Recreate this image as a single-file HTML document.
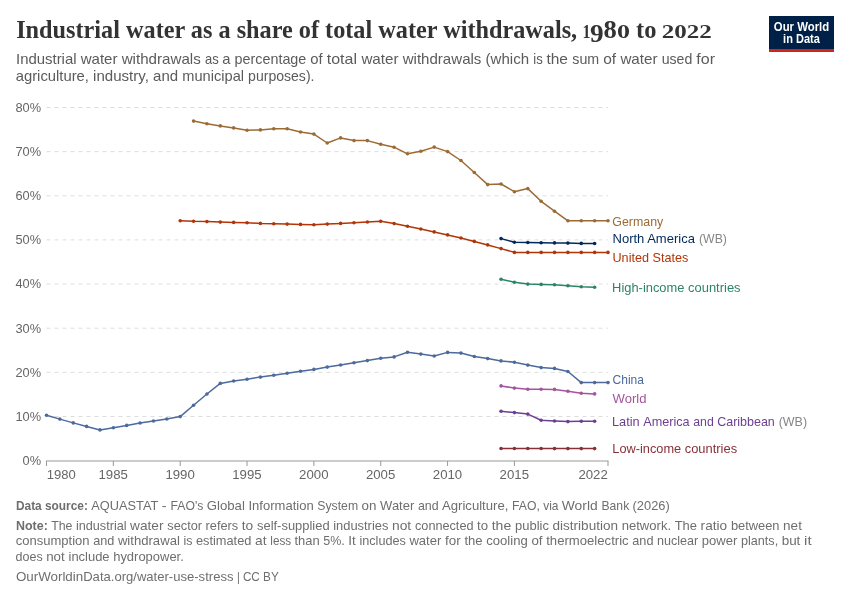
<!DOCTYPE html>
<html><head><meta charset="utf-8"><style>
html,body{margin:0;padding:0;background:#fff;width:850px;height:600px;overflow:hidden}
svg{display:block;will-change:transform}
</style></head><body>
<svg width="850" height="600" viewBox="0 0 850 600">
<rect width="850" height="600" fill="#ffffff"/>
<line x1="46.5" y1="416.50" x2="608" y2="416.50" stroke="#dddddd" stroke-width="1" stroke-dasharray="4,4"/>
<line x1="46.5" y1="372.35" x2="608" y2="372.35" stroke="#dddddd" stroke-width="1" stroke-dasharray="4,4"/>
<line x1="46.5" y1="328.21" x2="608" y2="328.21" stroke="#dddddd" stroke-width="1" stroke-dasharray="4,4"/>
<line x1="46.5" y1="284.07" x2="608" y2="284.07" stroke="#dddddd" stroke-width="1" stroke-dasharray="4,4"/>
<line x1="46.5" y1="239.92" x2="608" y2="239.92" stroke="#dddddd" stroke-width="1" stroke-dasharray="4,4"/>
<line x1="46.5" y1="195.78" x2="608" y2="195.78" stroke="#dddddd" stroke-width="1" stroke-dasharray="4,4"/>
<line x1="46.5" y1="151.64" x2="608" y2="151.64" stroke="#dddddd" stroke-width="1" stroke-dasharray="4,4"/>
<line x1="46.5" y1="107.50" x2="608" y2="107.50" stroke="#dddddd" stroke-width="1" stroke-dasharray="4,4"/>
<line x1="46" y1="461" x2="608.5" y2="461" stroke="#cccccc" stroke-width="2"/>
<line x1="46.50" y1="461" x2="46.50" y2="466" stroke="#999999" stroke-width="1"/>
<line x1="113.35" y1="461" x2="113.35" y2="466" stroke="#999999" stroke-width="1"/>
<line x1="180.19" y1="461" x2="180.19" y2="466" stroke="#999999" stroke-width="1"/>
<line x1="247.04" y1="461" x2="247.04" y2="466" stroke="#999999" stroke-width="1"/>
<line x1="313.88" y1="461" x2="313.88" y2="466" stroke="#999999" stroke-width="1"/>
<line x1="380.73" y1="461" x2="380.73" y2="466" stroke="#999999" stroke-width="1"/>
<line x1="447.57" y1="461" x2="447.57" y2="466" stroke="#999999" stroke-width="1"/>
<line x1="514.42" y1="461" x2="514.42" y2="466" stroke="#999999" stroke-width="1"/>
<line x1="608.00" y1="461" x2="608.00" y2="466" stroke="#999999" stroke-width="1"/>
<text x="41.1" y="464.9" font-size="12.8" fill="#666666" font-weight="normal" font-family='"Liberation Sans", sans-serif' text-anchor="end" xml:space="preserve">0%</text>
<text x="41.1" y="420.8" font-size="12.8" fill="#666666" font-weight="normal" font-family='"Liberation Sans", sans-serif' text-anchor="end" xml:space="preserve">10%</text>
<text x="41.1" y="376.7" font-size="12.8" fill="#666666" font-weight="normal" font-family='"Liberation Sans", sans-serif' text-anchor="end" xml:space="preserve">20%</text>
<text x="41.1" y="332.5" font-size="12.8" fill="#666666" font-weight="normal" font-family='"Liberation Sans", sans-serif' text-anchor="end" xml:space="preserve">30%</text>
<text x="41.1" y="288.4" font-size="12.8" fill="#666666" font-weight="normal" font-family='"Liberation Sans", sans-serif' text-anchor="end" xml:space="preserve">40%</text>
<text x="41.1" y="244.2" font-size="12.8" fill="#666666" font-weight="normal" font-family='"Liberation Sans", sans-serif' text-anchor="end" xml:space="preserve">50%</text>
<text x="41.1" y="200.1" font-size="12.8" fill="#666666" font-weight="normal" font-family='"Liberation Sans", sans-serif' text-anchor="end" xml:space="preserve">60%</text>
<text x="41.1" y="155.9" font-size="12.8" fill="#666666" font-weight="normal" font-family='"Liberation Sans", sans-serif' text-anchor="end" xml:space="preserve">70%</text>
<text x="41.1" y="111.8" font-size="12.8" fill="#666666" font-weight="normal" font-family='"Liberation Sans", sans-serif' text-anchor="end" xml:space="preserve">80%</text>
<text x="46.8" y="478.6" font-size="12.8" fill="#666666" font-weight="normal" font-family='"Liberation Sans", sans-serif' text-anchor="start" xml:space="preserve" textLength="29.0" lengthAdjust="spacingAndGlyphs">1980</text>
<text x="98.5" y="478.6" font-size="12.8" fill="#666666" font-weight="normal" font-family='"Liberation Sans", sans-serif' text-anchor="start" xml:space="preserve" textLength="29.4" lengthAdjust="spacingAndGlyphs">1985</text>
<text x="165.4" y="478.6" font-size="12.8" fill="#666666" font-weight="normal" font-family='"Liberation Sans", sans-serif' text-anchor="start" xml:space="preserve" textLength="29.4" lengthAdjust="spacingAndGlyphs">1990</text>
<text x="232.2" y="478.6" font-size="12.8" fill="#666666" font-weight="normal" font-family='"Liberation Sans", sans-serif' text-anchor="start" xml:space="preserve" textLength="29.4" lengthAdjust="spacingAndGlyphs">1995</text>
<text x="299.1" y="478.6" font-size="12.8" fill="#666666" font-weight="normal" font-family='"Liberation Sans", sans-serif' text-anchor="start" xml:space="preserve" textLength="29.4" lengthAdjust="spacingAndGlyphs">2000</text>
<text x="365.9" y="478.6" font-size="12.8" fill="#666666" font-weight="normal" font-family='"Liberation Sans", sans-serif' text-anchor="start" xml:space="preserve" textLength="29.4" lengthAdjust="spacingAndGlyphs">2005</text>
<text x="432.8" y="478.6" font-size="12.8" fill="#666666" font-weight="normal" font-family='"Liberation Sans", sans-serif' text-anchor="start" xml:space="preserve" textLength="29.4" lengthAdjust="spacingAndGlyphs">2010</text>
<text x="499.6" y="478.6" font-size="12.8" fill="#666666" font-weight="normal" font-family='"Liberation Sans", sans-serif' text-anchor="start" xml:space="preserve" textLength="29.4" lengthAdjust="spacingAndGlyphs">2015</text>
<text x="578.4" y="478.6" font-size="12.8" fill="#666666" font-weight="normal" font-family='"Liberation Sans", sans-serif' text-anchor="start" xml:space="preserve" textLength="29.4" lengthAdjust="spacingAndGlyphs">2022</text>
<polyline points="501.05,448.50 514.42,448.50 527.79,448.50 541.15,448.50 554.52,448.60 567.89,448.60 581.26,448.60 594.63,448.60" fill="none" stroke="#883039" stroke-width="1.5" stroke-linejoin="round"/>
<circle cx="501.05" cy="448.50" r="1.8" fill="#883039"/>
<circle cx="514.42" cy="448.50" r="1.8" fill="#883039"/>
<circle cx="527.79" cy="448.50" r="1.8" fill="#883039"/>
<circle cx="541.15" cy="448.50" r="1.8" fill="#883039"/>
<circle cx="554.52" cy="448.60" r="1.8" fill="#883039"/>
<circle cx="567.89" cy="448.60" r="1.8" fill="#883039"/>
<circle cx="581.26" cy="448.60" r="1.8" fill="#883039"/>
<circle cx="594.63" cy="448.60" r="1.8" fill="#883039"/>
<polyline points="501.05,411.30 514.42,412.60 527.79,414.10 541.15,420.20 554.52,421.00 567.89,421.60 581.26,421.20 594.63,421.20" fill="none" stroke="#6d3e91" stroke-width="1.5" stroke-linejoin="round"/>
<circle cx="501.05" cy="411.30" r="1.8" fill="#6d3e91"/>
<circle cx="514.42" cy="412.60" r="1.8" fill="#6d3e91"/>
<circle cx="527.79" cy="414.10" r="1.8" fill="#6d3e91"/>
<circle cx="541.15" cy="420.20" r="1.8" fill="#6d3e91"/>
<circle cx="554.52" cy="421.00" r="1.8" fill="#6d3e91"/>
<circle cx="567.89" cy="421.60" r="1.8" fill="#6d3e91"/>
<circle cx="581.26" cy="421.20" r="1.8" fill="#6d3e91"/>
<circle cx="594.63" cy="421.20" r="1.8" fill="#6d3e91"/>
<polyline points="501.05,385.90 514.42,388.10 527.79,389.30 541.15,389.30 554.52,389.40 567.89,391.20 581.26,393.20 594.63,393.90" fill="none" stroke="#a2559c" stroke-width="1.5" stroke-linejoin="round"/>
<circle cx="501.05" cy="385.90" r="1.8" fill="#a2559c"/>
<circle cx="514.42" cy="388.10" r="1.8" fill="#a2559c"/>
<circle cx="527.79" cy="389.30" r="1.8" fill="#a2559c"/>
<circle cx="541.15" cy="389.30" r="1.8" fill="#a2559c"/>
<circle cx="554.52" cy="389.40" r="1.8" fill="#a2559c"/>
<circle cx="567.89" cy="391.20" r="1.8" fill="#a2559c"/>
<circle cx="581.26" cy="393.20" r="1.8" fill="#a2559c"/>
<circle cx="594.63" cy="393.90" r="1.8" fill="#a2559c"/>
<polyline points="46.50,415.20 59.87,419.10 73.24,422.90 86.61,426.40 99.98,429.90 113.35,427.70 126.71,425.40 140.08,423.00 153.45,421.00 166.82,419.00 180.19,416.60 193.56,405.30 206.93,394.00 220.30,383.40 233.67,381.00 247.04,379.20 260.40,377.10 273.77,375.20 287.14,373.30 300.51,371.20 313.88,369.40 327.25,367.10 340.62,365.00 353.99,362.70 367.36,360.60 380.73,358.20 394.10,356.90 407.46,352.30 420.83,354.10 434.20,356.00 447.57,352.40 460.94,353.10 474.31,356.50 487.68,358.60 501.05,360.90 514.42,362.30 527.79,365.10 541.15,367.60 554.52,368.40 567.89,371.50 581.26,382.60 594.63,382.60 608.00,382.60" fill="none" stroke="#4c6a9c" stroke-width="1.5" stroke-linejoin="round"/>
<circle cx="46.50" cy="415.20" r="1.8" fill="#4c6a9c"/>
<circle cx="59.87" cy="419.10" r="1.8" fill="#4c6a9c"/>
<circle cx="73.24" cy="422.90" r="1.8" fill="#4c6a9c"/>
<circle cx="86.61" cy="426.40" r="1.8" fill="#4c6a9c"/>
<circle cx="99.98" cy="429.90" r="1.8" fill="#4c6a9c"/>
<circle cx="113.35" cy="427.70" r="1.8" fill="#4c6a9c"/>
<circle cx="126.71" cy="425.40" r="1.8" fill="#4c6a9c"/>
<circle cx="140.08" cy="423.00" r="1.8" fill="#4c6a9c"/>
<circle cx="153.45" cy="421.00" r="1.8" fill="#4c6a9c"/>
<circle cx="166.82" cy="419.00" r="1.8" fill="#4c6a9c"/>
<circle cx="180.19" cy="416.60" r="1.8" fill="#4c6a9c"/>
<circle cx="193.56" cy="405.30" r="1.8" fill="#4c6a9c"/>
<circle cx="206.93" cy="394.00" r="1.8" fill="#4c6a9c"/>
<circle cx="220.30" cy="383.40" r="1.8" fill="#4c6a9c"/>
<circle cx="233.67" cy="381.00" r="1.8" fill="#4c6a9c"/>
<circle cx="247.04" cy="379.20" r="1.8" fill="#4c6a9c"/>
<circle cx="260.40" cy="377.10" r="1.8" fill="#4c6a9c"/>
<circle cx="273.77" cy="375.20" r="1.8" fill="#4c6a9c"/>
<circle cx="287.14" cy="373.30" r="1.8" fill="#4c6a9c"/>
<circle cx="300.51" cy="371.20" r="1.8" fill="#4c6a9c"/>
<circle cx="313.88" cy="369.40" r="1.8" fill="#4c6a9c"/>
<circle cx="327.25" cy="367.10" r="1.8" fill="#4c6a9c"/>
<circle cx="340.62" cy="365.00" r="1.8" fill="#4c6a9c"/>
<circle cx="353.99" cy="362.70" r="1.8" fill="#4c6a9c"/>
<circle cx="367.36" cy="360.60" r="1.8" fill="#4c6a9c"/>
<circle cx="380.73" cy="358.20" r="1.8" fill="#4c6a9c"/>
<circle cx="394.10" cy="356.90" r="1.8" fill="#4c6a9c"/>
<circle cx="407.46" cy="352.30" r="1.8" fill="#4c6a9c"/>
<circle cx="420.83" cy="354.10" r="1.8" fill="#4c6a9c"/>
<circle cx="434.20" cy="356.00" r="1.8" fill="#4c6a9c"/>
<circle cx="447.57" cy="352.40" r="1.8" fill="#4c6a9c"/>
<circle cx="460.94" cy="353.10" r="1.8" fill="#4c6a9c"/>
<circle cx="474.31" cy="356.50" r="1.8" fill="#4c6a9c"/>
<circle cx="487.68" cy="358.60" r="1.8" fill="#4c6a9c"/>
<circle cx="501.05" cy="360.90" r="1.8" fill="#4c6a9c"/>
<circle cx="514.42" cy="362.30" r="1.8" fill="#4c6a9c"/>
<circle cx="527.79" cy="365.10" r="1.8" fill="#4c6a9c"/>
<circle cx="541.15" cy="367.60" r="1.8" fill="#4c6a9c"/>
<circle cx="554.52" cy="368.40" r="1.8" fill="#4c6a9c"/>
<circle cx="567.89" cy="371.50" r="1.8" fill="#4c6a9c"/>
<circle cx="581.26" cy="382.60" r="1.8" fill="#4c6a9c"/>
<circle cx="594.63" cy="382.60" r="1.8" fill="#4c6a9c"/>
<circle cx="608.00" cy="382.60" r="1.8" fill="#4c6a9c"/>
<polyline points="501.05,279.20 514.42,282.30 527.79,284.10 541.15,284.40 554.52,284.80 567.89,285.80 581.26,286.80 594.63,287.20" fill="none" stroke="#2c8562" stroke-width="1.5" stroke-linejoin="round"/>
<circle cx="501.05" cy="279.20" r="1.8" fill="#2c8562"/>
<circle cx="514.42" cy="282.30" r="1.8" fill="#2c8562"/>
<circle cx="527.79" cy="284.10" r="1.8" fill="#2c8562"/>
<circle cx="541.15" cy="284.40" r="1.8" fill="#2c8562"/>
<circle cx="554.52" cy="284.80" r="1.8" fill="#2c8562"/>
<circle cx="567.89" cy="285.80" r="1.8" fill="#2c8562"/>
<circle cx="581.26" cy="286.80" r="1.8" fill="#2c8562"/>
<circle cx="594.63" cy="287.20" r="1.8" fill="#2c8562"/>
<polyline points="180.19,220.70 193.56,221.30 206.93,221.60 220.30,222.10 233.67,222.40 247.04,222.80 260.40,223.40 273.77,223.70 287.14,224.10 300.51,224.40 313.88,224.80 327.25,224.10 340.62,223.40 353.99,222.70 367.36,222.00 380.73,221.30 394.10,223.60 407.46,226.30 420.83,229.00 434.20,231.90 447.57,234.90 460.94,238.00 474.31,241.40 487.68,244.90 501.05,248.60 514.42,252.40 527.79,252.40 541.15,252.40 554.52,252.40 567.89,252.40 581.26,252.40 594.63,252.40 608.00,252.40" fill="none" stroke="#b13507" stroke-width="1.5" stroke-linejoin="round"/>
<circle cx="180.19" cy="220.70" r="1.8" fill="#b13507"/>
<circle cx="193.56" cy="221.30" r="1.8" fill="#b13507"/>
<circle cx="206.93" cy="221.60" r="1.8" fill="#b13507"/>
<circle cx="220.30" cy="222.10" r="1.8" fill="#b13507"/>
<circle cx="233.67" cy="222.40" r="1.8" fill="#b13507"/>
<circle cx="247.04" cy="222.80" r="1.8" fill="#b13507"/>
<circle cx="260.40" cy="223.40" r="1.8" fill="#b13507"/>
<circle cx="273.77" cy="223.70" r="1.8" fill="#b13507"/>
<circle cx="287.14" cy="224.10" r="1.8" fill="#b13507"/>
<circle cx="300.51" cy="224.40" r="1.8" fill="#b13507"/>
<circle cx="313.88" cy="224.80" r="1.8" fill="#b13507"/>
<circle cx="327.25" cy="224.10" r="1.8" fill="#b13507"/>
<circle cx="340.62" cy="223.40" r="1.8" fill="#b13507"/>
<circle cx="353.99" cy="222.70" r="1.8" fill="#b13507"/>
<circle cx="367.36" cy="222.00" r="1.8" fill="#b13507"/>
<circle cx="380.73" cy="221.30" r="1.8" fill="#b13507"/>
<circle cx="394.10" cy="223.60" r="1.8" fill="#b13507"/>
<circle cx="407.46" cy="226.30" r="1.8" fill="#b13507"/>
<circle cx="420.83" cy="229.00" r="1.8" fill="#b13507"/>
<circle cx="434.20" cy="231.90" r="1.8" fill="#b13507"/>
<circle cx="447.57" cy="234.90" r="1.8" fill="#b13507"/>
<circle cx="460.94" cy="238.00" r="1.8" fill="#b13507"/>
<circle cx="474.31" cy="241.40" r="1.8" fill="#b13507"/>
<circle cx="487.68" cy="244.90" r="1.8" fill="#b13507"/>
<circle cx="501.05" cy="248.60" r="1.8" fill="#b13507"/>
<circle cx="514.42" cy="252.40" r="1.8" fill="#b13507"/>
<circle cx="527.79" cy="252.40" r="1.8" fill="#b13507"/>
<circle cx="541.15" cy="252.40" r="1.8" fill="#b13507"/>
<circle cx="554.52" cy="252.40" r="1.8" fill="#b13507"/>
<circle cx="567.89" cy="252.40" r="1.8" fill="#b13507"/>
<circle cx="581.26" cy="252.40" r="1.8" fill="#b13507"/>
<circle cx="594.63" cy="252.40" r="1.8" fill="#b13507"/>
<circle cx="608.00" cy="252.40" r="1.8" fill="#b13507"/>
<polyline points="501.05,238.60 514.42,242.20 527.79,242.50 541.15,242.80 554.52,242.90 567.89,243.10 581.26,243.40 594.63,243.50" fill="none" stroke="#00295b" stroke-width="1.5" stroke-linejoin="round"/>
<circle cx="501.05" cy="238.60" r="1.8" fill="#00295b"/>
<circle cx="514.42" cy="242.20" r="1.8" fill="#00295b"/>
<circle cx="527.79" cy="242.50" r="1.8" fill="#00295b"/>
<circle cx="541.15" cy="242.80" r="1.8" fill="#00295b"/>
<circle cx="554.52" cy="242.90" r="1.8" fill="#00295b"/>
<circle cx="567.89" cy="243.10" r="1.8" fill="#00295b"/>
<circle cx="581.26" cy="243.40" r="1.8" fill="#00295b"/>
<circle cx="594.63" cy="243.50" r="1.8" fill="#00295b"/>
<polyline points="193.56,121.10 206.93,123.70 220.30,125.90 233.67,127.90 247.04,130.30 260.40,129.90 273.77,128.80 287.14,128.80 300.51,132.00 313.88,134.10 327.25,143.00 340.62,137.90 353.99,140.60 367.36,140.60 380.73,144.30 394.10,147.20 407.46,153.80 420.83,151.30 434.20,147.10 447.57,151.60 460.94,160.50 474.31,172.50 487.68,184.60 501.05,184.00 514.42,191.70 527.79,188.60 541.15,201.30 554.52,211.20 567.89,220.80 581.26,220.80 594.63,220.80 608.00,220.80" fill="none" stroke="#9c6b35" stroke-width="1.5" stroke-linejoin="round"/>
<circle cx="193.56" cy="121.10" r="1.8" fill="#9c6b35"/>
<circle cx="206.93" cy="123.70" r="1.8" fill="#9c6b35"/>
<circle cx="220.30" cy="125.90" r="1.8" fill="#9c6b35"/>
<circle cx="233.67" cy="127.90" r="1.8" fill="#9c6b35"/>
<circle cx="247.04" cy="130.30" r="1.8" fill="#9c6b35"/>
<circle cx="260.40" cy="129.90" r="1.8" fill="#9c6b35"/>
<circle cx="273.77" cy="128.80" r="1.8" fill="#9c6b35"/>
<circle cx="287.14" cy="128.80" r="1.8" fill="#9c6b35"/>
<circle cx="300.51" cy="132.00" r="1.8" fill="#9c6b35"/>
<circle cx="313.88" cy="134.10" r="1.8" fill="#9c6b35"/>
<circle cx="327.25" cy="143.00" r="1.8" fill="#9c6b35"/>
<circle cx="340.62" cy="137.90" r="1.8" fill="#9c6b35"/>
<circle cx="353.99" cy="140.60" r="1.8" fill="#9c6b35"/>
<circle cx="367.36" cy="140.60" r="1.8" fill="#9c6b35"/>
<circle cx="380.73" cy="144.30" r="1.8" fill="#9c6b35"/>
<circle cx="394.10" cy="147.20" r="1.8" fill="#9c6b35"/>
<circle cx="407.46" cy="153.80" r="1.8" fill="#9c6b35"/>
<circle cx="420.83" cy="151.30" r="1.8" fill="#9c6b35"/>
<circle cx="434.20" cy="147.10" r="1.8" fill="#9c6b35"/>
<circle cx="447.57" cy="151.60" r="1.8" fill="#9c6b35"/>
<circle cx="460.94" cy="160.50" r="1.8" fill="#9c6b35"/>
<circle cx="474.31" cy="172.50" r="1.8" fill="#9c6b35"/>
<circle cx="487.68" cy="184.60" r="1.8" fill="#9c6b35"/>
<circle cx="501.05" cy="184.00" r="1.8" fill="#9c6b35"/>
<circle cx="514.42" cy="191.70" r="1.8" fill="#9c6b35"/>
<circle cx="527.79" cy="188.60" r="1.8" fill="#9c6b35"/>
<circle cx="541.15" cy="201.30" r="1.8" fill="#9c6b35"/>
<circle cx="554.52" cy="211.20" r="1.8" fill="#9c6b35"/>
<circle cx="567.89" cy="220.80" r="1.8" fill="#9c6b35"/>
<circle cx="581.26" cy="220.80" r="1.8" fill="#9c6b35"/>
<circle cx="594.63" cy="220.80" r="1.8" fill="#9c6b35"/>
<circle cx="608.00" cy="220.80" r="1.8" fill="#9c6b35"/>
<text x="612.3" y="225.8" font-size="13.5" fill="#9c6b35" font-weight="normal" font-family='"Liberation Sans", sans-serif' text-anchor="start" xml:space="preserve" textLength="51.0" lengthAdjust="spacingAndGlyphs">Germany</text>
<text x="612.5" y="243.4" font-size="13.5" fill="#00295b" font-weight="normal" font-family='"Liberation Sans", sans-serif' text-anchor="start" xml:space="preserve" textLength="82.4" lengthAdjust="spacingAndGlyphs">North America</text>
<text x="699.0" y="243.4" font-size="13.5" fill="#858585" font-weight="normal" font-family='"Liberation Sans", sans-serif' text-anchor="start" xml:space="preserve" textLength="27.9" lengthAdjust="spacingAndGlyphs">(WB)</text>
<text x="612.5" y="261.5" font-size="13.5" fill="#b13507" font-weight="normal" font-family='"Liberation Sans", sans-serif' text-anchor="start" xml:space="preserve" textLength="75.8" lengthAdjust="spacingAndGlyphs">United States</text>
<text x="612.1" y="292.0" font-size="13.5" fill="#2c8562" font-weight="normal" font-family='"Liberation Sans", sans-serif' text-anchor="start" xml:space="preserve" textLength="75.9" lengthAdjust="spacingAndGlyphs">High-income </text>
<text x="688.0" y="292.0" font-size="13.5" fill="#2c8562" font-weight="normal" font-family='"Liberation Sans", sans-serif' text-anchor="start" xml:space="preserve" textLength="52.6" lengthAdjust="spacingAndGlyphs">countries</text>
<text x="612.5" y="384.3" font-size="13.5" fill="#4c6a9c" font-weight="normal" font-family='"Liberation Sans", sans-serif' text-anchor="start" xml:space="preserve" textLength="31.5" lengthAdjust="spacingAndGlyphs">China</text>
<text x="612.5" y="402.5" font-size="13.5" fill="#a2559c" font-weight="normal" font-family='"Liberation Sans", sans-serif' text-anchor="start" xml:space="preserve" textLength="34.0" lengthAdjust="spacingAndGlyphs">World</text>
<text x="612.0" y="426.3" font-size="13.5" fill="#6d3e91" font-weight="normal" font-family='"Liberation Sans", sans-serif' text-anchor="start" xml:space="preserve" textLength="31.2" lengthAdjust="spacingAndGlyphs">Latin </text>
<text x="643.2" y="426.3" font-size="13.5" fill="#6d3e91" font-weight="normal" font-family='"Liberation Sans", sans-serif' text-anchor="start" xml:space="preserve" textLength="50.0" lengthAdjust="spacingAndGlyphs">America </text>
<text x="693.2" y="426.3" font-size="13.5" fill="#6d3e91" font-weight="normal" font-family='"Liberation Sans", sans-serif' text-anchor="start" xml:space="preserve" textLength="24.0" lengthAdjust="spacingAndGlyphs">and </text>
<text x="717.2" y="426.3" font-size="13.5" fill="#6d3e91" font-weight="normal" font-family='"Liberation Sans", sans-serif' text-anchor="start" xml:space="preserve" textLength="57.6" lengthAdjust="spacingAndGlyphs">Caribbean</text>
<text x="778.7" y="426.3" font-size="13.5" fill="#858585" font-weight="normal" font-family='"Liberation Sans", sans-serif' text-anchor="start" xml:space="preserve" textLength="28.4" lengthAdjust="spacingAndGlyphs">(WB)</text>
<text x="612.3" y="453.4" font-size="13.5" fill="#883039" font-weight="normal" font-family='"Liberation Sans", sans-serif' text-anchor="start" xml:space="preserve" textLength="72.4" lengthAdjust="spacingAndGlyphs">Low-income </text>
<text x="684.7" y="453.4" font-size="13.5" fill="#883039" font-weight="normal" font-family='"Liberation Sans", sans-serif' text-anchor="start" xml:space="preserve" textLength="52.4" lengthAdjust="spacingAndGlyphs">countries</text>
<text x="16.2" y="38.2" font-size="25.2" fill="#333333" font-weight="bold" font-family='"Liberation Serif", serif' text-anchor="start" xml:space="preserve" textLength="561.0" lengthAdjust="spacingAndGlyphs">Industrial water as a share of total water withdrawals,</text>
<text x="582.6" y="38.3" font-size="18.5" fill="#333333" font-weight="bold" font-family='"Liberation Serif", serif' text-anchor="start" xml:space="preserve" textLength="8.0" lengthAdjust="spacingAndGlyphs">1</text>
<text x="590.0" y="41.8" font-size="25.5" fill="#333333" font-weight="bold" font-family='"Liberation Serif", serif' text-anchor="start" xml:space="preserve" textLength="13.6" lengthAdjust="spacingAndGlyphs">9</text>
<text x="603.4" y="38.3" font-size="25.2" fill="#333333" font-weight="bold" font-family='"Liberation Serif", serif' text-anchor="start" xml:space="preserve" textLength="13.3" lengthAdjust="spacingAndGlyphs">8</text>
<text x="617.0" y="38.3" font-size="18.5" fill="#333333" font-weight="bold" font-family='"Liberation Serif", serif' text-anchor="start" xml:space="preserve" textLength="13.0" lengthAdjust="spacingAndGlyphs">0</text>
<text x="636.0" y="38.2" font-size="25.2" fill="#333333" font-weight="bold" font-family='"Liberation Serif", serif' text-anchor="start" xml:space="preserve" textLength="20.4" lengthAdjust="spacingAndGlyphs">to</text>
<text x="661.8" y="38.3" font-size="18.5" fill="#333333" font-weight="bold" font-family='"Liberation Serif", serif' text-anchor="start" xml:space="preserve" textLength="50.0" lengthAdjust="spacingAndGlyphs">2022</text>
<text x="16.0" y="63.7" font-size="14.8" fill="#5b5b5b" font-weight="normal" font-family='"Liberation Sans", sans-serif' text-anchor="start" xml:space="preserve" textLength="64.7" lengthAdjust="spacingAndGlyphs">Industrial </text>
<text x="80.7" y="63.7" font-size="14.8" fill="#5b5b5b" font-weight="normal" font-family='"Liberation Sans", sans-serif' text-anchor="start" xml:space="preserve" textLength="41.0" lengthAdjust="spacingAndGlyphs">water </text>
<text x="121.7" y="63.7" font-size="14.8" fill="#5b5b5b" font-weight="normal" font-family='"Liberation Sans", sans-serif' text-anchor="start" xml:space="preserve" textLength="83.3" lengthAdjust="spacingAndGlyphs">withdrawals </text>
<text x="205.0" y="63.7" font-size="14.8" fill="#5b5b5b" font-weight="normal" font-family='"Liberation Sans", sans-serif' text-anchor="start" xml:space="preserve" textLength="17.3" lengthAdjust="spacingAndGlyphs">as </text>
<text x="222.3" y="63.7" font-size="14.8" fill="#5b5b5b" font-weight="normal" font-family='"Liberation Sans", sans-serif' text-anchor="start" xml:space="preserve" textLength="12.3" lengthAdjust="spacingAndGlyphs">a </text>
<text x="234.6" y="63.7" font-size="14.8" fill="#5b5b5b" font-weight="normal" font-family='"Liberation Sans", sans-serif' text-anchor="start" xml:space="preserve" textLength="75.7" lengthAdjust="spacingAndGlyphs">percentage </text>
<text x="310.3" y="63.7" font-size="14.8" fill="#5b5b5b" font-weight="normal" font-family='"Liberation Sans", sans-serif' text-anchor="start" xml:space="preserve" textLength="16.5" lengthAdjust="spacingAndGlyphs">of </text>
<text x="326.8" y="63.7" font-size="14.8" fill="#5b5b5b" font-weight="normal" font-family='"Liberation Sans", sans-serif' text-anchor="start" xml:space="preserve" textLength="34.6" lengthAdjust="spacingAndGlyphs">total </text>
<text x="361.4" y="63.7" font-size="14.8" fill="#5b5b5b" font-weight="normal" font-family='"Liberation Sans", sans-serif' text-anchor="start" xml:space="preserve" textLength="41.3" lengthAdjust="spacingAndGlyphs">water </text>
<text x="402.7" y="63.7" font-size="14.8" fill="#5b5b5b" font-weight="normal" font-family='"Liberation Sans", sans-serif' text-anchor="start" xml:space="preserve" textLength="82.9" lengthAdjust="spacingAndGlyphs">withdrawals </text>
<text x="485.6" y="63.7" font-size="14.8" fill="#5b5b5b" font-weight="normal" font-family='"Liberation Sans", sans-serif' text-anchor="start" xml:space="preserve" textLength="47.7" lengthAdjust="spacingAndGlyphs">(which </text>
<text x="533.3" y="63.7" font-size="14.8" fill="#5b5b5b" font-weight="normal" font-family='"Liberation Sans", sans-serif' text-anchor="start" xml:space="preserve" textLength="13.1" lengthAdjust="spacingAndGlyphs">is </text>
<text x="546.4" y="63.7" font-size="14.8" fill="#5b5b5b" font-weight="normal" font-family='"Liberation Sans", sans-serif' text-anchor="start" xml:space="preserve" textLength="25.9" lengthAdjust="spacingAndGlyphs">the </text>
<text x="572.3" y="63.7" font-size="14.8" fill="#5b5b5b" font-weight="normal" font-family='"Liberation Sans", sans-serif' text-anchor="start" xml:space="preserve" textLength="30.9" lengthAdjust="spacingAndGlyphs">sum </text>
<text x="603.2" y="63.7" font-size="14.8" fill="#5b5b5b" font-weight="normal" font-family='"Liberation Sans", sans-serif' text-anchor="start" xml:space="preserve" textLength="17.2" lengthAdjust="spacingAndGlyphs">of </text>
<text x="620.4" y="63.7" font-size="14.8" fill="#5b5b5b" font-weight="normal" font-family='"Liberation Sans", sans-serif' text-anchor="start" xml:space="preserve" textLength="41.3" lengthAdjust="spacingAndGlyphs">water </text>
<text x="661.7" y="63.7" font-size="14.8" fill="#5b5b5b" font-weight="normal" font-family='"Liberation Sans", sans-serif' text-anchor="start" xml:space="preserve" textLength="34.6" lengthAdjust="spacingAndGlyphs">used </text>
<text x="696.3" y="63.7" font-size="14.8" fill="#5b5b5b" font-weight="normal" font-family='"Liberation Sans", sans-serif' text-anchor="start" xml:space="preserve" textLength="18.7" lengthAdjust="spacingAndGlyphs">for</text>
<text x="15.7" y="81.4" font-size="14.8" fill="#5b5b5b" font-weight="normal" font-family='"Liberation Sans", sans-serif' text-anchor="start" xml:space="preserve" textLength="77.4" lengthAdjust="spacingAndGlyphs">agriculture, </text>
<text x="93.1" y="81.4" font-size="14.8" fill="#5b5b5b" font-weight="normal" font-family='"Liberation Sans", sans-serif' text-anchor="start" xml:space="preserve" textLength="60.0" lengthAdjust="spacingAndGlyphs">industry, </text>
<text x="153.1" y="81.4" font-size="14.8" fill="#5b5b5b" font-weight="normal" font-family='"Liberation Sans", sans-serif' text-anchor="start" xml:space="preserve" textLength="29.2" lengthAdjust="spacingAndGlyphs">and </text>
<text x="182.3" y="81.4" font-size="14.8" fill="#5b5b5b" font-weight="normal" font-family='"Liberation Sans", sans-serif' text-anchor="start" xml:space="preserve" textLength="65.8" lengthAdjust="spacingAndGlyphs">municipal </text>
<text x="248.1" y="81.4" font-size="14.8" fill="#5b5b5b" font-weight="normal" font-family='"Liberation Sans", sans-serif' text-anchor="start" xml:space="preserve" textLength="66.4" lengthAdjust="spacingAndGlyphs">purposes).</text>
<rect x="769" y="16" width="65" height="36" fill="#002147"/>
<rect x="769" y="49" width="65" height="3" fill="#ce261e"/>
<text x="801.5" y="30.7" font-size="12.6" fill="#ffffff" font-weight="bold" font-family='"Liberation Sans", sans-serif' text-anchor="middle" xml:space="preserve" textLength="55.3" lengthAdjust="spacingAndGlyphs">Our World</text>
<text x="801.5" y="42.9" font-size="12.6" fill="#ffffff" font-weight="bold" font-family='"Liberation Sans", sans-serif' text-anchor="middle" xml:space="preserve" textLength="36.8" lengthAdjust="spacingAndGlyphs">in Data</text>
<text x="16.0" y="509.5" font-size="13.2" fill="#6e6e6e" font-weight="bold" font-family='"Liberation Sans", sans-serif' text-anchor="start" xml:space="preserve" textLength="71.9" lengthAdjust="spacingAndGlyphs">Data source:</text>
<text x="91.2" y="509.5" font-size="13.2" fill="#6e6e6e" font-weight="normal" font-family='"Liberation Sans", sans-serif' text-anchor="start" xml:space="preserve" textLength="70.5" lengthAdjust="spacingAndGlyphs">AQUASTAT </text>
<text x="161.7" y="509.5" font-size="13.2" fill="#6e6e6e" font-weight="normal" font-family='"Liberation Sans", sans-serif' text-anchor="start" xml:space="preserve" textLength="8.9" lengthAdjust="spacingAndGlyphs">- </text>
<text x="170.6" y="509.5" font-size="13.2" fill="#6e6e6e" font-weight="normal" font-family='"Liberation Sans", sans-serif' text-anchor="start" xml:space="preserve" textLength="36.1" lengthAdjust="spacingAndGlyphs">FAO's </text>
<text x="206.7" y="509.5" font-size="13.2" fill="#6e6e6e" font-weight="normal" font-family='"Liberation Sans", sans-serif' text-anchor="start" xml:space="preserve" textLength="41.8" lengthAdjust="spacingAndGlyphs">Global </text>
<text x="248.5" y="509.5" font-size="13.2" fill="#6e6e6e" font-weight="normal" font-family='"Liberation Sans", sans-serif' text-anchor="start" xml:space="preserve" textLength="68.8" lengthAdjust="spacingAndGlyphs">Information </text>
<text x="317.3" y="509.5" font-size="13.2" fill="#6e6e6e" font-weight="normal" font-family='"Liberation Sans", sans-serif' text-anchor="start" xml:space="preserve" textLength="44.2" lengthAdjust="spacingAndGlyphs">System </text>
<text x="361.5" y="509.5" font-size="13.2" fill="#6e6e6e" font-weight="normal" font-family='"Liberation Sans", sans-serif' text-anchor="start" xml:space="preserve" textLength="18.6" lengthAdjust="spacingAndGlyphs">on </text>
<text x="380.1" y="509.5" font-size="13.2" fill="#6e6e6e" font-weight="normal" font-family='"Liberation Sans", sans-serif' text-anchor="start" xml:space="preserve" textLength="37.8" lengthAdjust="spacingAndGlyphs">Water </text>
<text x="417.9" y="509.5" font-size="13.2" fill="#6e6e6e" font-weight="normal" font-family='"Liberation Sans", sans-serif' text-anchor="start" xml:space="preserve" textLength="24.1" lengthAdjust="spacingAndGlyphs">and </text>
<text x="442.0" y="509.5" font-size="13.2" fill="#6e6e6e" font-weight="normal" font-family='"Liberation Sans", sans-serif' text-anchor="start" xml:space="preserve" textLength="70.0" lengthAdjust="spacingAndGlyphs">Agriculture, </text>
<text x="512.0" y="509.5" font-size="13.2" fill="#6e6e6e" font-weight="normal" font-family='"Liberation Sans", sans-serif' text-anchor="start" xml:space="preserve" textLength="31.2" lengthAdjust="spacingAndGlyphs">FAO, </text>
<text x="543.2" y="509.5" font-size="13.2" fill="#6e6e6e" font-weight="normal" font-family='"Liberation Sans", sans-serif' text-anchor="start" xml:space="preserve" textLength="18.6" lengthAdjust="spacingAndGlyphs">via </text>
<text x="561.8" y="509.5" font-size="13.2" fill="#6e6e6e" font-weight="normal" font-family='"Liberation Sans", sans-serif' text-anchor="start" xml:space="preserve" textLength="39.7" lengthAdjust="spacingAndGlyphs">World </text>
<text x="601.5" y="509.5" font-size="13.2" fill="#6e6e6e" font-weight="normal" font-family='"Liberation Sans", sans-serif' text-anchor="start" xml:space="preserve" textLength="31.1" lengthAdjust="spacingAndGlyphs">Bank </text>
<text x="632.6" y="509.5" font-size="13.2" fill="#6e6e6e" font-weight="normal" font-family='"Liberation Sans", sans-serif' text-anchor="start" xml:space="preserve" textLength="37.1" lengthAdjust="spacingAndGlyphs">(2026)</text>
<text x="16.0" y="529.6" font-size="13.2" fill="#6e6e6e" font-weight="bold" font-family='"Liberation Sans", sans-serif' text-anchor="start" xml:space="preserve" textLength="31.8" lengthAdjust="spacingAndGlyphs">Note:</text>
<text x="51.2" y="529.6" font-size="13.2" fill="#6e6e6e" font-weight="normal" font-family='"Liberation Sans", sans-serif' text-anchor="start" xml:space="preserve" textLength="24.7" lengthAdjust="spacingAndGlyphs">The </text>
<text x="75.9" y="529.6" font-size="13.2" fill="#6e6e6e" font-weight="normal" font-family='"Liberation Sans", sans-serif' text-anchor="start" xml:space="preserve" textLength="54.2" lengthAdjust="spacingAndGlyphs">industrial </text>
<text x="130.1" y="529.6" font-size="13.2" fill="#6e6e6e" font-weight="normal" font-family='"Liberation Sans", sans-serif' text-anchor="start" xml:space="preserve" textLength="37.2" lengthAdjust="spacingAndGlyphs">water </text>
<text x="167.3" y="529.6" font-size="13.2" fill="#6e6e6e" font-weight="normal" font-family='"Liberation Sans", sans-serif' text-anchor="start" xml:space="preserve" textLength="38.3" lengthAdjust="spacingAndGlyphs">sector </text>
<text x="205.6" y="529.6" font-size="13.2" fill="#6e6e6e" font-weight="normal" font-family='"Liberation Sans", sans-serif' text-anchor="start" xml:space="preserve" textLength="36.1" lengthAdjust="spacingAndGlyphs">refers </text>
<text x="241.7" y="529.6" font-size="13.2" fill="#6e6e6e" font-weight="normal" font-family='"Liberation Sans", sans-serif' text-anchor="start" xml:space="preserve" textLength="15.3" lengthAdjust="spacingAndGlyphs">to </text>
<text x="257.0" y="529.6" font-size="13.2" fill="#6e6e6e" font-weight="normal" font-family='"Liberation Sans", sans-serif' text-anchor="start" xml:space="preserve" textLength="76.2" lengthAdjust="spacingAndGlyphs">self-supplied </text>
<text x="333.2" y="529.6" font-size="13.2" fill="#6e6e6e" font-weight="normal" font-family='"Liberation Sans", sans-serif' text-anchor="start" xml:space="preserve" textLength="58.8" lengthAdjust="spacingAndGlyphs">industries </text>
<text x="392.0" y="529.6" font-size="13.2" fill="#6e6e6e" font-weight="normal" font-family='"Liberation Sans", sans-serif' text-anchor="start" xml:space="preserve" textLength="23.0" lengthAdjust="spacingAndGlyphs">not </text>
<text x="415.0" y="529.6" font-size="13.2" fill="#6e6e6e" font-weight="normal" font-family='"Liberation Sans", sans-serif' text-anchor="start" xml:space="preserve" textLength="62.0" lengthAdjust="spacingAndGlyphs">connected </text>
<text x="477.0" y="529.6" font-size="13.2" fill="#6e6e6e" font-weight="normal" font-family='"Liberation Sans", sans-serif' text-anchor="start" xml:space="preserve" textLength="14.7" lengthAdjust="spacingAndGlyphs">to </text>
<text x="491.7" y="529.6" font-size="13.2" fill="#6e6e6e" font-weight="normal" font-family='"Liberation Sans", sans-serif' text-anchor="start" xml:space="preserve" textLength="23.4" lengthAdjust="spacingAndGlyphs">the </text>
<text x="515.1" y="529.6" font-size="13.2" fill="#6e6e6e" font-weight="normal" font-family='"Liberation Sans", sans-serif' text-anchor="start" xml:space="preserve" textLength="37.5" lengthAdjust="spacingAndGlyphs">public </text>
<text x="552.6" y="529.6" font-size="13.2" fill="#6e6e6e" font-weight="normal" font-family='"Liberation Sans", sans-serif' text-anchor="start" xml:space="preserve" textLength="69.1" lengthAdjust="spacingAndGlyphs">distribution </text>
<text x="621.7" y="529.6" font-size="13.2" fill="#6e6e6e" font-weight="normal" font-family='"Liberation Sans", sans-serif' text-anchor="start" xml:space="preserve" textLength="53.0" lengthAdjust="spacingAndGlyphs">network. </text>
<text x="674.7" y="529.6" font-size="13.2" fill="#6e6e6e" font-weight="normal" font-family='"Liberation Sans", sans-serif' text-anchor="start" xml:space="preserve" textLength="25.9" lengthAdjust="spacingAndGlyphs">The </text>
<text x="700.6" y="529.6" font-size="13.2" fill="#6e6e6e" font-weight="normal" font-family='"Liberation Sans", sans-serif' text-anchor="start" xml:space="preserve" textLength="30.3" lengthAdjust="spacingAndGlyphs">ratio </text>
<text x="730.9" y="529.6" font-size="13.2" fill="#6e6e6e" font-weight="normal" font-family='"Liberation Sans", sans-serif' text-anchor="start" xml:space="preserve" textLength="52.2" lengthAdjust="spacingAndGlyphs">between </text>
<text x="783.1" y="529.6" font-size="13.2" fill="#6e6e6e" font-weight="normal" font-family='"Liberation Sans", sans-serif' text-anchor="start" xml:space="preserve" textLength="18.8" lengthAdjust="spacingAndGlyphs">net</text>
<text x="15.7" y="545.4" font-size="13.2" fill="#6e6e6e" font-weight="normal" font-family='"Liberation Sans", sans-serif' text-anchor="start" xml:space="preserve" textLength="77.5" lengthAdjust="spacingAndGlyphs">consumption </text>
<text x="93.2" y="545.4" font-size="13.2" fill="#6e6e6e" font-weight="normal" font-family='"Liberation Sans", sans-serif' text-anchor="start" xml:space="preserve" textLength="24.7" lengthAdjust="spacingAndGlyphs">and </text>
<text x="117.9" y="545.4" font-size="13.2" fill="#6e6e6e" font-weight="normal" font-family='"Liberation Sans", sans-serif' text-anchor="start" xml:space="preserve" textLength="65.6" lengthAdjust="spacingAndGlyphs">withdrawal </text>
<text x="183.5" y="545.4" font-size="13.2" fill="#6e6e6e" font-weight="normal" font-family='"Liberation Sans", sans-serif' text-anchor="start" xml:space="preserve" textLength="12.4" lengthAdjust="spacingAndGlyphs">is </text>
<text x="195.9" y="545.4" font-size="13.2" fill="#6e6e6e" font-weight="normal" font-family='"Liberation Sans", sans-serif' text-anchor="start" xml:space="preserve" textLength="59.1" lengthAdjust="spacingAndGlyphs">estimated </text>
<text x="255.0" y="545.4" font-size="13.2" fill="#6e6e6e" font-weight="normal" font-family='"Liberation Sans", sans-serif' text-anchor="start" xml:space="preserve" textLength="15.3" lengthAdjust="spacingAndGlyphs">at </text>
<text x="270.3" y="545.4" font-size="13.2" fill="#6e6e6e" font-weight="normal" font-family='"Liberation Sans", sans-serif' text-anchor="start" xml:space="preserve" textLength="24.1" lengthAdjust="spacingAndGlyphs">less </text>
<text x="294.4" y="545.4" font-size="13.2" fill="#6e6e6e" font-weight="normal" font-family='"Liberation Sans", sans-serif' text-anchor="start" xml:space="preserve" textLength="28.8" lengthAdjust="spacingAndGlyphs">than </text>
<text x="323.2" y="545.4" font-size="13.2" fill="#6e6e6e" font-weight="normal" font-family='"Liberation Sans", sans-serif' text-anchor="start" xml:space="preserve" textLength="25.0" lengthAdjust="spacingAndGlyphs">5%. </text>
<text x="348.2" y="545.4" font-size="13.2" fill="#6e6e6e" font-weight="normal" font-family='"Liberation Sans", sans-serif' text-anchor="start" xml:space="preserve" textLength="11.2" lengthAdjust="spacingAndGlyphs">It </text>
<text x="359.4" y="545.4" font-size="13.2" fill="#6e6e6e" font-weight="normal" font-family='"Liberation Sans", sans-serif' text-anchor="start" xml:space="preserve" textLength="50.0" lengthAdjust="spacingAndGlyphs">includes </text>
<text x="409.4" y="545.4" font-size="13.2" fill="#6e6e6e" font-weight="normal" font-family='"Liberation Sans", sans-serif' text-anchor="start" xml:space="preserve" textLength="35.6" lengthAdjust="spacingAndGlyphs">water </text>
<text x="445.0" y="545.4" font-size="13.2" fill="#6e6e6e" font-weight="normal" font-family='"Liberation Sans", sans-serif' text-anchor="start" xml:space="preserve" textLength="19.4" lengthAdjust="spacingAndGlyphs">for </text>
<text x="464.4" y="545.4" font-size="13.2" fill="#6e6e6e" font-weight="normal" font-family='"Liberation Sans", sans-serif' text-anchor="start" xml:space="preserve" textLength="21.8" lengthAdjust="spacingAndGlyphs">the </text>
<text x="486.2" y="545.4" font-size="13.2" fill="#6e6e6e" font-weight="normal" font-family='"Liberation Sans", sans-serif' text-anchor="start" xml:space="preserve" textLength="45.2" lengthAdjust="spacingAndGlyphs">cooling </text>
<text x="531.4" y="545.4" font-size="13.2" fill="#6e6e6e" font-weight="normal" font-family='"Liberation Sans", sans-serif' text-anchor="start" xml:space="preserve" textLength="14.8" lengthAdjust="spacingAndGlyphs">of </text>
<text x="546.2" y="545.4" font-size="13.2" fill="#6e6e6e" font-weight="normal" font-family='"Liberation Sans", sans-serif' text-anchor="start" xml:space="preserve" textLength="86.1" lengthAdjust="spacingAndGlyphs">thermoelectric </text>
<text x="632.3" y="545.4" font-size="13.2" fill="#6e6e6e" font-weight="normal" font-family='"Liberation Sans", sans-serif' text-anchor="start" xml:space="preserve" textLength="24.7" lengthAdjust="spacingAndGlyphs">and </text>
<text x="657.0" y="545.4" font-size="13.2" fill="#6e6e6e" font-weight="normal" font-family='"Liberation Sans", sans-serif' text-anchor="start" xml:space="preserve" textLength="44.7" lengthAdjust="spacingAndGlyphs">nuclear </text>
<text x="701.7" y="545.4" font-size="13.2" fill="#6e6e6e" font-weight="normal" font-family='"Liberation Sans", sans-serif' text-anchor="start" xml:space="preserve" textLength="39.2" lengthAdjust="spacingAndGlyphs">power </text>
<text x="740.9" y="545.4" font-size="13.2" fill="#6e6e6e" font-weight="normal" font-family='"Liberation Sans", sans-serif' text-anchor="start" xml:space="preserve" textLength="40.8" lengthAdjust="spacingAndGlyphs">plants, </text>
<text x="781.7" y="545.4" font-size="13.2" fill="#6e6e6e" font-weight="normal" font-family='"Liberation Sans", sans-serif' text-anchor="start" xml:space="preserve" textLength="22.4" lengthAdjust="spacingAndGlyphs">but </text>
<text x="804.1" y="545.4" font-size="13.2" fill="#6e6e6e" font-weight="normal" font-family='"Liberation Sans", sans-serif' text-anchor="start" xml:space="preserve" textLength="7.5" lengthAdjust="spacingAndGlyphs">it</text>
<text x="15.6" y="560.9" font-size="13.2" fill="#6e6e6e" font-weight="normal" font-family='"Liberation Sans", sans-serif' text-anchor="start" xml:space="preserve" textLength="30.6" lengthAdjust="spacingAndGlyphs">does </text>
<text x="46.2" y="560.9" font-size="13.2" fill="#6e6e6e" font-weight="normal" font-family='"Liberation Sans", sans-serif' text-anchor="start" xml:space="preserve" textLength="22.3" lengthAdjust="spacingAndGlyphs">not </text>
<text x="68.5" y="560.9" font-size="13.2" fill="#6e6e6e" font-weight="normal" font-family='"Liberation Sans", sans-serif' text-anchor="start" xml:space="preserve" textLength="44.7" lengthAdjust="spacingAndGlyphs">include </text>
<text x="113.2" y="560.9" font-size="13.2" fill="#6e6e6e" font-weight="normal" font-family='"Liberation Sans", sans-serif' text-anchor="start" xml:space="preserve" textLength="70.6" lengthAdjust="spacingAndGlyphs">hydropower.</text>
<text x="15.9" y="580.8" font-size="13.2" fill="#6e6e6e" font-weight="normal" font-family='"Liberation Sans", sans-serif' text-anchor="start" xml:space="preserve" textLength="67.3" lengthAdjust="spacingAndGlyphs">OurWorldin</text>
<text x="83.2" y="580.8" font-size="13.2" fill="#6e6e6e" font-weight="normal" font-family='"Liberation Sans", sans-serif' text-anchor="start" xml:space="preserve" textLength="153.9" lengthAdjust="spacingAndGlyphs">Data.org/water-use-stress </text>
<text x="237.1" y="580.8" font-size="13.2" fill="#6e6e6e" font-weight="normal" font-family='"Liberation Sans", sans-serif' text-anchor="start" xml:space="preserve" textLength="5.8" lengthAdjust="spacingAndGlyphs">| </text>
<text x="242.9" y="580.8" font-size="13.2" fill="#6e6e6e" font-weight="normal" font-family='"Liberation Sans", sans-serif' text-anchor="start" xml:space="preserve" textLength="35.9" lengthAdjust="spacingAndGlyphs">CC BY</text>
</svg>
</body></html>
